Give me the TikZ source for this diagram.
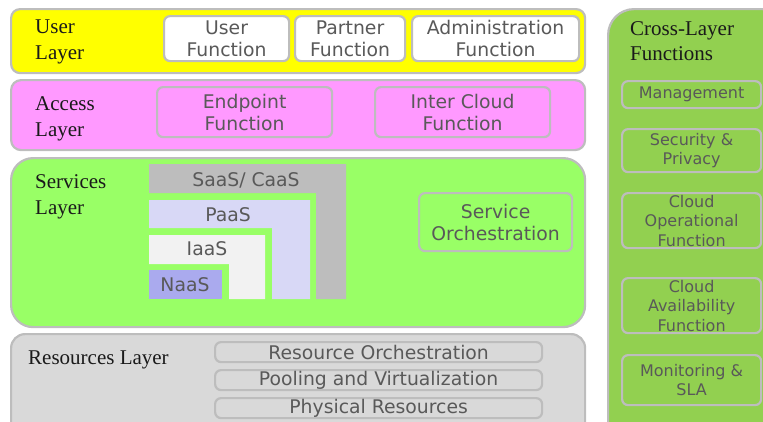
\documentclass[tikz,border=0pt]{standalone}
\usepackage{fontspec}
\setmainfont{Liberation Serif}
\newfontfamily\dvsans{DejaVu Sans}
\definecolor{bordergray}{HTML}{BDBDBD}
\definecolor{uyellow}{HTML}{FFFF00}
\definecolor{apink}{HTML}{FF99FF}
\definecolor{sgreen}{HTML}{99FF66}
\definecolor{rgray}{HTML}{D9D9D9}
\definecolor{cgreen}{HTML}{92D050}
\definecolor{saasgray}{HTML}{BDBDBD}
\definecolor{paaslav}{HTML}{D8D8F6}
\definecolor{iaaswhite}{HTML}{F2F2F2}
\definecolor{naasblue}{HTML}{AAAAEE}
\definecolor{txtgray}{HTML}{595959}
\definecolor{labblack}{HTML}{1A1A1A}
\begin{document}
\begin{tikzpicture}[x=1pt,y=-1pt,
  layer/.style={draw=bordergray, line width=2.2pt, rounded corners=#1, anchor=north west, inner sep=0pt},
  fbox/.style={draw=bordergray, line width=2.2pt, rounded corners=6pt, anchor=north west, inner sep=0pt,
     text=txtgray, font=\dvsans\fontsize{18.8}{22}\selectfont, align=center},
  cbox/.style={fbox, font=\dvsans\fontsize{16}{19.5}\selectfont},
  lab/.style={anchor=west, inner sep=0pt, text=labblack, align=left, font=\fontsize{21}{25.5}\selectfont},
  stxt/.style={inner sep=0pt, text=txtgray, font=\dvsans\fontsize{18.8}{22}\selectfont}]
\useasboundingbox (0,0) rectangle (763,421);
\clip (0,0) rectangle (763,421);
% layers
\node[layer=9pt, fill=uyellow, minimum width=574pt, minimum height=64pt] (user) at (10,8) {};
\node[layer=10pt, fill=apink, minimum width=574pt, minimum height=70pt] (access) at (10,79) {};
\node[layer=22pt, fill=sgreen, minimum width=574pt, minimum height=169pt] (services) at (10,157) {};
\node[layer=14pt, fill=rgray, minimum width=574pt, minimum height=110pt] (resources) at (10,333) {};
\node[layer=26pt, fill=cgreen, minimum width=180pt, minimum height=440pt] (cross) at (607,8) {};
% layer labels
\node[lab] (userlab) at (35,42) {User\\Layer};
\node[lab] (accesslab) at (35,119) {Access\\Layer};
\node[lab] (serviceslab) at (35,197) {Services\\Layer};
\node[lab] (resourceslab) at (28,360) {Resources Layer};
\node[lab] (crosslab) at (630,41) {Cross-Layer\\Functions};
% user layer boxes
\node[fbox, fill=white, minimum width=125pt, minimum height=45pt] (uf) at (163,15) {User\\Function};
\node[fbox, fill=white, minimum width=110pt, minimum height=45pt] (pf) at (294,15) {Partner\\Function};
\node[fbox, fill=white, minimum width=167pt, minimum height=45pt] (af) at (411,15) {Administration\\Function};
% access layer boxes
\node[fbox, minimum width=175pt, minimum height=50pt] (ep) at (156,86) {Endpoint\\Function};
\node[fbox, minimum width=175pt, minimum height=50pt] (ic) at (374,86) {Inter Cloud\\Function};
% services
\fill[saasgray] (149,164) -- (346,164) -- (346,299) -- (316,299) -- (316,193) -- (149,193) -- cycle;
\fill[paaslav] (149,200) -- (310,200) -- (310,299) -- (272,299) -- (272,228) -- (149,228) -- cycle;
\fill[iaaswhite] (149,235) -- (265,235) -- (265,299) -- (229,299) -- (229,264) -- (149,264) -- cycle;
\fill[naasblue] (149,270) rectangle (222,299);
\node[stxt] (saas) at (246,180) {SaaS/ CaaS};
\node[stxt] (paas) at (228,215) {PaaS};
\node[stxt] (iaas) at (207,249) {IaaS};
\node[stxt] (naas) at (185,285) {NaaS};
\node[fbox, minimum width=153pt, minimum height=58pt] (so) at (418,192) {Service\\Orchestration};
% resources
\node[fbox, minimum width=327pt, minimum height=20pt] (ro) at (214,341) {Resource Orchestration};
\node[fbox, minimum width=327pt, minimum height=20pt] (pv) at (214,369) {Pooling and Virtualization};
\node[fbox, minimum width=327pt, minimum height=20pt] (pr) at (214,397) {Physical Resources};
% cross layer
\node[cbox, minimum width=139pt, minimum height=27pt] (mg) at (621,80) {Management};
\node[cbox, minimum width=139pt, minimum height=43pt] (sp) at (621,128) {Security \&\\Privacy};
\node[cbox, minimum width=139pt, minimum height=55pt] (co) at (621,192) {Cloud\\Operational\\Function};
\node[cbox, minimum width=139pt, minimum height=55pt] (ca) at (621,277) {Cloud\\Availability\\Function};
\node[cbox, minimum width=139pt, minimum height=50pt] (ms) at (621,354) {Monitoring \&\\SLA};
\end{tikzpicture}
\end{document}
